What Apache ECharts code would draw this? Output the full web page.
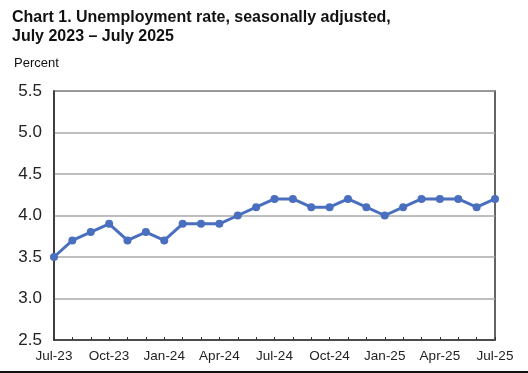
<!DOCTYPE html>
<html><head><meta charset="utf-8">
<script src="https://cdn.jsdelivr.net/npm/echarts@6/dist/echarts.min.js"></script>
<style>html,body{margin:0;padding:0;background:#fff}#c{width:528px;height:373px}</style>
</head><body><div id="c"></div>
<script>
var months = ['Jul-23','Aug-23','Sep-23','Oct-23','Nov-23','Dec-23','Jan-24','Feb-24','Mar-24','Apr-24','May-24','Jun-24','Jul-24','Aug-24','Sep-24','Oct-24','Nov-24','Dec-24','Jan-25','Feb-25','Mar-25','Apr-25','May-25','Jun-25','Jul-25'];
var rate = [3.5,3.7,3.8,3.9,3.7,3.8,3.7,3.9,3.9,3.9,4.0,4.1,4.2,4.2,4.1,4.1,4.2,4.1,4.0,4.1,4.2,4.2,4.2,4.1,4.2];
var yMin = 2.5, yMax = 5.5, yStep = 0.5;

var chart = echarts.init(document.getElementById('c'));
chart.setOption({
  animation: false,
  title: [{
    text: 'Chart 1. Unemployment rate, seasonally adjusted,\nJuly 2023 \u2013 July 2025',
    left: 7, top: 3,
    textStyle: {fontFamily: 'Liberation Sans, Arial', fontSize: 16, fontWeight: 'bold', color: '#111', lineHeight: 19}
  },{
    text: 'Percent', left: 9, top: 52,
    textStyle: {fontFamily: 'Liberation Sans, Arial', fontSize: 13, fontWeight: 'normal', color: '#111'}
  }],
  grid: {left: 54, right: 33, top: 91, bottom: 33, show: true, borderColor: '#333', borderWidth: 1.5, backgroundColor: 'transparent'},
  xAxis: {
    type: 'category', data: months, boundaryGap: false,
    axisLine: {lineStyle: {color: '#333', width: 1.5}},
    axisTick: {inside: true, length: 3, interval: 0, lineStyle: {color: '#333'}},
    axisLabel: {interval: 2, margin: 9, fontFamily: 'Liberation Sans, Arial', fontSize: 13.5, color: '#222'},
    splitLine: {show: false}
  },
  yAxis: {
    type: 'value', min: yMin, max: yMax, interval: yStep,
    axisLine: {show: true, lineStyle: {color: '#333', width: 1.5}},
    axisTick: {show: false},
    axisLabel: {formatter: function(v){return v.toFixed(1);}, margin: 12, fontFamily: 'Liberation Sans, Arial', fontSize: 17, color: '#222'},
    splitLine: {lineStyle: {color: '#aaa', width: 1.5}}
  },
  series: [{
    type: 'line', data: rate,
    symbol: 'circle', symbolSize: 8,
    lineStyle: {color: '#4a6fbe', width: 3},
    itemStyle: {color: '#4a6fbe'}
  }],
  graphic: [{type: 'rect', shape: {x: 0, y: 371, width: 528, height: 2}, style: {fill: '#111'}}]
});
</script></body></html>
